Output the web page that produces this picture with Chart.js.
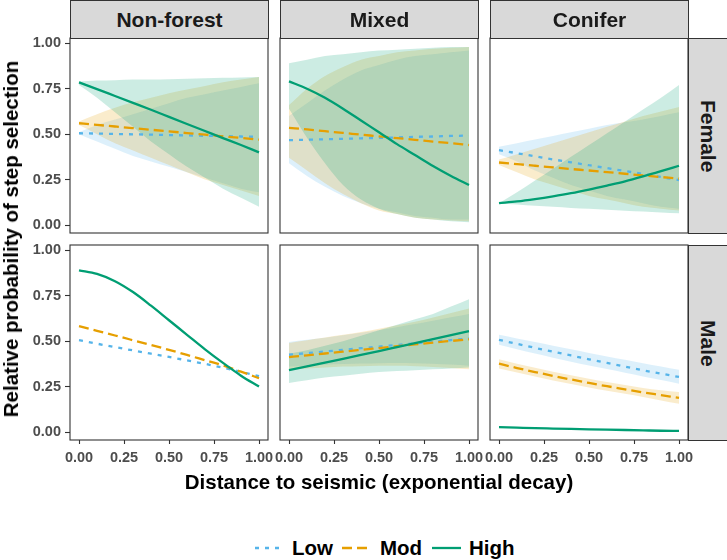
<!DOCTYPE html>
<html>
<head>
<meta charset="utf-8">
<title>Step selection by habitat</title>
<script src="https://cdn.jsdelivr.net/npm/chart.js@4.4.0/dist/chart.umd.min.js"></script>
<style>
    body { margin: 0; background: #fff; }
    #wrap { position: relative; width: 727px; height: 560px; overflow: hidden; font-family: "Liberation Sans", Arial, sans-serif; }
    canvas { position: absolute; }
    .strip { position: absolute; box-sizing: border-box; background: #d9d9d9; border: 1px solid #333;
             display: flex; align-items: center; justify-content: center;
             font-weight: bold; font-size: 21px; color: #1a1a1a; }
    .strip.side span { writing-mode: vertical-rl; }
    .axis-title { position: absolute; font-weight: bold; font-size: 20.5px; color: #000; white-space: nowrap; }
    .legend-label { position: absolute; font-weight: bold; font-size: 20.5px; line-height: 22px; color: #000; }
    .legend-key { position: absolute; }
</style>
</head>
<body>
<div id="wrap"></div>
<script>
// x positions where the fitted curves were read
const xs = [0, 0.1, 0.2, 0.3, 0.4, 0.5, 0.6, 0.7, 0.8, 0.9, 1];
const xTicks = [0, 0.25, 0.5, 0.75, 1];
const yTicks = [0, 0.25, 0.5, 0.75, 1];

const habitats = ['Non-forest', 'Mixed', 'Conifer'];
const sexes = ['Female', 'Male'];
const levels = ['Low', 'Mod', 'High'];

// Female - Non-forest
const femNonLow   = [0.505, 0.503, 0.501, 0.499, 0.497, 0.495, 0.493, 0.491, 0.489, 0.487, 0.485];
const femNonLowLo = [0.50, 0.46, 0.42, 0.38, 0.35, 0.32, 0.29, 0.26, 0.23, 0.20, 0.18];
const femNonLowHi = [0.51, 0.55, 0.58, 0.61, 0.64, 0.67, 0.70, 0.72, 0.74, 0.76, 0.78];
const femNonMod   = [0.56, 0.551, 0.542, 0.533, 0.524, 0.515, 0.506, 0.497, 0.488, 0.479, 0.47];
const femNonModLo = [0.55, 0.50, 0.45, 0.41, 0.37, 0.33, 0.29, 0.25, 0.22, 0.19, 0.16];
const femNonModHi = [0.57, 0.61, 0.645, 0.675, 0.70, 0.725, 0.745, 0.765, 0.785, 0.80, 0.815];
const femNonHigh   = [0.785, 0.748, 0.71, 0.672, 0.634, 0.595, 0.556, 0.517, 0.478, 0.44, 0.40];
const femNonHighLo = [0.77, 0.70, 0.62, 0.54, 0.46, 0.39, 0.32, 0.26, 0.20, 0.15, 0.10];
const femNonHighHi = [0.79, 0.795, 0.797, 0.80, 0.80, 0.802, 0.805, 0.807, 0.81, 0.812, 0.815];

// Female - Mixed
const femMixLow   = [0.467, 0.469, 0.472, 0.474, 0.477, 0.479, 0.482, 0.485, 0.487, 0.49, 0.492];
const femMixLowLo = [0.34, 0.27, 0.21, 0.16, 0.12, 0.09, 0.07, 0.05, 0.04, 0.03, 0.03];
const femMixLowHi = [0.60, 0.67, 0.74, 0.80, 0.85, 0.88, 0.91, 0.93, 0.94, 0.95, 0.96];
const femMixMod   = [0.535, 0.526, 0.516, 0.507, 0.497, 0.488, 0.478, 0.469, 0.459, 0.45, 0.44];
const femMixModLo = [0.37, 0.30, 0.23, 0.17, 0.12, 0.08, 0.06, 0.04, 0.03, 0.025, 0.02];
const femMixModHi = [0.66, 0.75, 0.82, 0.87, 0.91, 0.93, 0.95, 0.96, 0.97, 0.975, 0.98];
const femMixHigh   = [0.79, 0.75, 0.70, 0.64, 0.575, 0.51, 0.445, 0.385, 0.325, 0.27, 0.22];
const femMixHighLo = [0.64, 0.48, 0.34, 0.22, 0.14, 0.09, 0.06, 0.04, 0.03, 0.02, 0.015];
const femMixHighHi = [0.89, 0.91, 0.93, 0.94, 0.95, 0.96, 0.965, 0.97, 0.975, 0.98, 0.98];

// Female - Conifer
const femConLow   = [0.412, 0.395, 0.378, 0.361, 0.345, 0.329, 0.313, 0.297, 0.281, 0.264, 0.247];
const femConLowLo = [0.39, 0.35, 0.30, 0.26, 0.22, 0.19, 0.16, 0.14, 0.12, 0.10, 0.09];
const femConLowHi = [0.43, 0.45, 0.47, 0.49, 0.51, 0.53, 0.55, 0.565, 0.58, 0.60, 0.62];
const femConMod   = [0.344, 0.335, 0.326, 0.317, 0.308, 0.30, 0.291, 0.282, 0.273, 0.264, 0.255];
const femConModLo = [0.33, 0.29, 0.25, 0.22, 0.19, 0.16, 0.14, 0.12, 0.10, 0.09, 0.08];
const femConModHi = [0.36, 0.39, 0.42, 0.45, 0.48, 0.51, 0.54, 0.57, 0.60, 0.625, 0.65];
const femConHigh   = [0.12, 0.13, 0.143, 0.158, 0.175, 0.195, 0.217, 0.24, 0.267, 0.296, 0.326];
const femConHighLo = [0.12, 0.113, 0.106, 0.10, 0.094, 0.089, 0.084, 0.079, 0.074, 0.069, 0.064];
const femConHighHi = [0.12, 0.18, 0.245, 0.31, 0.375, 0.44, 0.505, 0.57, 0.635, 0.70, 0.77];

// Male - Non-forest (no visible ribbons)
const malNonLow  = [0.505, 0.486, 0.467, 0.449, 0.431, 0.413, 0.394, 0.375, 0.354, 0.331, 0.307];
const malNonMod  = [0.583, 0.557, 0.531, 0.505, 0.479, 0.452, 0.424, 0.395, 0.366, 0.332, 0.296];
const malNonHigh = [0.89, 0.87, 0.83, 0.77, 0.695, 0.615, 0.535, 0.455, 0.38, 0.31, 0.25];

// Male - Mixed
const malMixLow   = [0.425, 0.434, 0.443, 0.452, 0.461, 0.47, 0.479, 0.488, 0.497, 0.506, 0.515];
const malMixLowLo = [0.36, 0.365, 0.37, 0.374, 0.377, 0.379, 0.38, 0.379, 0.376, 0.371, 0.365];
const malMixLowHi = [0.495, 0.507, 0.519, 0.532, 0.546, 0.561, 0.577, 0.594, 0.612, 0.631, 0.65];
const malMixMod   = [0.412, 0.422, 0.432, 0.442, 0.452, 0.462, 0.472, 0.482, 0.492, 0.501, 0.51];
const malMixModLo = [0.345, 0.35, 0.355, 0.36, 0.362, 0.364, 0.364, 0.362, 0.358, 0.352, 0.345];
const malMixModHi = [0.49, 0.505, 0.52, 0.535, 0.55, 0.568, 0.587, 0.607, 0.63, 0.655, 0.68];
const malMixHigh   = [0.34, 0.361, 0.382, 0.403, 0.424, 0.445, 0.467, 0.489, 0.511, 0.533, 0.555];
const malMixHighLo = [0.27, 0.285, 0.30, 0.31, 0.32, 0.33, 0.335, 0.34, 0.345, 0.35, 0.355];
const malMixHighHi = [0.43, 0.45, 0.475, 0.50, 0.53, 0.56, 0.59, 0.62, 0.65, 0.69, 0.73];

// Male - Conifer
const malConLow   = [0.507, 0.485, 0.463, 0.442, 0.421, 0.40, 0.38, 0.36, 0.34, 0.321, 0.303];
const malConLowLo = [0.48, 0.456, 0.432, 0.409, 0.387, 0.366, 0.346, 0.326, 0.306, 0.286, 0.266];
const malConLowHi = [0.535, 0.515, 0.495, 0.475, 0.455, 0.435, 0.415, 0.397, 0.379, 0.361, 0.343];
const malConMod   = [0.376, 0.352, 0.33, 0.309, 0.289, 0.27, 0.252, 0.235, 0.218, 0.203, 0.188];
const malConModLo = [0.35, 0.327, 0.305, 0.284, 0.264, 0.245, 0.227, 0.21, 0.193, 0.174, 0.155];
const malConModHi = [0.40, 0.376, 0.353, 0.332, 0.312, 0.293, 0.275, 0.258, 0.242, 0.23, 0.22];
const malConHigh  = [0.027, 0.024, 0.021, 0.019, 0.017, 0.015, 0.013, 0.011, 0.009, 0.007, 0.006];

// panels in facet order: [row][col]
const panels = [
    [
        [[femNonLow, femNonLowLo, femNonLowHi], [femNonMod, femNonModLo, femNonModHi], [femNonHigh, femNonHighLo, femNonHighHi]],
        [[femMixLow, femMixLowLo, femMixLowHi], [femMixMod, femMixModLo, femMixModHi], [femMixHigh, femMixHighLo, femMixHighHi]],
        [[femConLow, femConLowLo, femConLowHi], [femConMod, femConModLo, femConModHi], [femConHigh, femConHighLo, femConHighHi]]
    ],
    [
        [[malNonLow], [malNonMod], [malNonHigh]],
        [[malMixLow, malMixLowLo, malMixLowHi], [malMixMod, malMixModLo, malMixModHi], [malMixHigh, malMixHighLo, malMixHighHi]],
        [[malConLow, malConLowLo, malConLowHi], [malConMod, malConModLo, malConModHi], [malConHigh]]
    ]
];

// styling
const lineColors = ['#56B4E9', '#E69F00', '#009E73'];
const ribbonColors = ['rgba(86,180,233,0.2)', 'rgba(230,159,0,0.2)', 'rgba(0,158,115,0.2)'];
const lineDash = [[4, 6], [10, 5], []];

// facet geometry
const colLeft = [70, 280, 490];
const colRight = [268, 478, 688];
const rowTop = [38, 245];
const rowBottom = [233, 440];
const padX = 15, padY = 5, yAxisW = 40, xAxisH = 32;

const tickFont = { family: 'Liberation Sans', size: 14.5, weight: 'bold' };

const panelBorder = {
    id: 'panelBorder',
    afterDraw(chart) {
        const { ctx, chartArea: a } = chart;
        ctx.save();
        ctx.strokeStyle = '#333';
        ctx.lineWidth = 1.1;
        ctx.strokeRect(a.left, a.top, a.right - a.left, a.bottom - a.top);
        ctx.restore();
    }
};

function toPoints(values) {
    return values.map((v, i) => ({ x: xs[i], y: v }));
}

function buildDatasets(series) {
    const ribbons = [];
    const lines = [];
    series.forEach((s, i) => {
        const [fit, lo, hi] = s;
        if (lo && hi) {
            ribbons.push({
                data: toPoints(lo), borderWidth: 0, pointRadius: 0, fill: false,
                cubicInterpolationMode: 'monotone', order: 10 + (2 - i)
            });
            ribbons.push({
                data: toPoints(hi), borderWidth: 0, pointRadius: 0, fill: '-1',
                backgroundColor: ribbonColors[i],
                cubicInterpolationMode: 'monotone', order: 10 + (2 - i)
            });
        }
        lines.push({
            data: toPoints(fit), borderColor: lineColors[i], borderWidth: 2.3,
            borderDash: lineDash[i], pointRadius: 0, fill: false,
            cubicInterpolationMode: 'monotone', order: 2 - i
        });
    });
    return ribbons.concat(lines);
}

function makePanel(row, col) {
    const wrap = document.getElementById('wrap');
    const showY = col === 0;
    const showX = row === 1;
    const w = (colRight[col] - colLeft[col]) + 2 * padX + (showY ? yAxisW : 0);
    const h = (rowBottom[row] - rowTop[row]) + 2 * padY + (showX ? xAxisH : 0);

    const canvas = document.createElement('canvas');
    canvas.width = w;
    canvas.height = h;
    canvas.style.left = (colLeft[col] - padX - (showY ? yAxisW : 0)) + 'px';
    canvas.style.top = (rowTop[row] - padY) + 'px';
    wrap.appendChild(canvas);

    new Chart(canvas.getContext('2d'), {
        type: 'line',
        data: { datasets: buildDatasets(panels[row][col]) },
        options: {
            responsive: false,
            animation: false,
            devicePixelRatio: 1,
            events: [],
            layout: { padding: { left: padX, right: padX, top: padY, bottom: padY } },
            plugins: { legend: { display: false }, tooltip: { enabled: false } },
            scales: {
                x: {
                    type: 'linear', min: -0.05, max: 1.05, display: showX,
                    afterBuildTicks: s => { s.ticks = xTicks.map(v => ({ value: v })); },
                    afterFit: s => {
                        if (!showX) return;
                        s.height = xAxisH; s.paddingLeft = 0; s.paddingRight = 0;
                    },
                    grid: { display: true, drawOnChartArea: false, drawTicks: true, tickLength: 4, tickColor: '#333', tickWidth: 1.1 },
                    border: { display: false },
                    ticks: { font: tickFont, color: '#4d4d4d', padding: 5, maxRotation: 0, autoSkip: false,
                             callback: v => v.toFixed(2) }
                },
                y: {
                    type: 'linear', min: -0.044, max: 1.029, display: showY,
                    afterBuildTicks: s => { s.ticks = yTicks.map(v => ({ value: v })); },
                    afterFit: s => {
                        if (!showY) return;
                        s.width = yAxisW; s.paddingTop = 0; s.paddingBottom = 0;
                    },
                    grid: { display: true, drawOnChartArea: false, drawTicks: true, tickLength: 5, tickColor: '#333', tickWidth: 1.1 },
                    border: { display: false },
                    ticks: { font: tickFont, color: '#4d4d4d', padding: 4, autoSkip: false,
                             callback: v => v.toFixed(2) }
                }
            }
        },
        plugins: [panelBorder]
    });
}

function addStrips() {
    const wrap = document.getElementById('wrap');
    habitats.forEach((name, c) => {
        const d = document.createElement('div');
        d.className = 'strip';
        d.style.left = colLeft[c] + 'px';
        d.style.top = '0px';
        d.style.width = (colRight[c] - colLeft[c] + 1) + 'px';
        d.style.height = (rowTop[0] + 1) + 'px';
        d.textContent = name;
        wrap.appendChild(d);
    });
    sexes.forEach((name, r) => {
        const d = document.createElement('div');
        d.className = 'strip side';
        d.style.left = colRight[2] + 'px';
        d.style.top = rowTop[r] + 'px';
        d.style.width = '40px';
        d.style.height = (rowBottom[r] - rowTop[r] + 1) + 'px';
        d.innerHTML = '<span>' + name + '</span>';
        wrap.appendChild(d);
    });
}

function addTitles() {
    const wrap = document.getElementById('wrap');
    const xt = document.createElement('div');
    xt.className = 'axis-title';
    xt.textContent = 'Distance to seismic (exponential decay)';
    xt.style.left = ((colLeft[0] + colRight[2]) / 2) + 'px';
    xt.style.top = '482px';
    xt.style.transform = 'translate(-50%, -50%)';
    wrap.appendChild(xt);

    const yt = document.createElement('div');
    yt.className = 'axis-title';
    yt.textContent = 'Relative probability of step selection';
    yt.style.left = '11px';
    yt.style.top = ((rowTop[0] + rowBottom[1]) / 2) + 'px';
    yt.style.transform = 'translate(-50%, -50%) rotate(-90deg)';
    wrap.appendChild(yt);
}

function addLegend() {
    const wrap = document.getElementById('wrap');
    const keyLeft = [255, 342, 432];
    const labelLeft = [292, 380, 469];
    levels.forEach((name, i) => {
        const svg = document.createElementNS('http://www.w3.org/2000/svg', 'svg');
        svg.setAttribute('class', 'legend-key');
        svg.setAttribute('width', '30');
        svg.setAttribute('height', '10');
        svg.style.left = keyLeft[i] + 'px';
        svg.style.top = '543px';
        const ln = document.createElementNS('http://www.w3.org/2000/svg', 'line');
        ln.setAttribute('x1', '0'); ln.setAttribute('y1', '5');
        ln.setAttribute('x2', '29'); ln.setAttribute('y2', '5');
        ln.setAttribute('stroke', lineColors[i]);
        ln.setAttribute('stroke-width', '2.3');
        if (lineDash[i].length) ln.setAttribute('stroke-dasharray', lineDash[i].join(' '));
        svg.appendChild(ln);
        wrap.appendChild(svg);

        const lab = document.createElement('div');
        lab.className = 'legend-label';
        lab.style.left = labelLeft[i] + 'px';
        lab.style.top = '537px';
        lab.textContent = name;
        wrap.appendChild(lab);
    });
}

document.addEventListener('DOMContentLoaded', function() {
    for (let r = 0; r < 2; r++) {
        for (let c = 0; c < 3; c++) {
            makePanel(r, c);
        }
    }
    addStrips();
    addTitles();
    addLegend();
});
</script>
</body>
</html>
